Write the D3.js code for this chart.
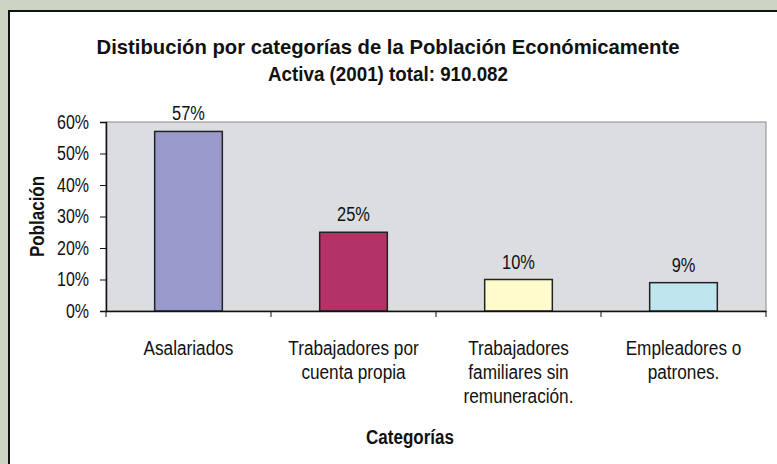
<!DOCTYPE html>
<meta charset="utf-8">
<html>
<head>
    <meta charset="utf-8">
    <script src="https://d3js.org/d3.v7.min.js"></script>
    <style>
        body { margin: 0; background: #ccd4c2; }
        svg { display: block; font-family: "Liberation Sans", Arial, sans-serif; }
    </style>
</head>
<body>
    <svg width="777" height="464"></svg>

    <script>
        // data
        var categories = ["Asalariados", "Trabajadores por cuenta propia", "Trabajadores familiares sin remuneración.", "Empleadores o patrones."];
        var catLines = [["Asalariados"], ["Trabajadores por", "cuenta propia"], ["Trabajadores", "familiares sin", "remuneración."], ["Empleadores o", "patrones."]];
        var values = [0.57, 0.25, 0.10, 0.09];
        var labels = ["57%", "25%", "10%", "9%"];
        var colors = ["#9999cc", "#b33366", "#fffbcc", "#bfe6ee"];
        var yTicks = [0, 0.1, 0.2, 0.3, 0.4, 0.5, 0.6];

        var svg = d3.select("svg");

        // the original uses a narrow font, squeeze the text a bit
        function condense(sel, f) {
            sel.each(function () {
                var w = this.getComputedTextLength();
                d3.select(this).attr("textLength", w * f).attr("lengthAdjust", "spacingAndGlyphs");
            });
        }

        // white panel
        svg.append("rect")
            .attr("x", 9).attr("y", 11)
            .attr("width", 800).attr("height", 500)
            .attr("fill", "#fff")
            .attr("stroke", "#111")
            .attr("stroke-width", 2);

        // plot area
        var pLeft = 106, pTop = 122, pRight = 766, pBottom = 311;

        var x = d3.scaleBand().domain(categories).range([pLeft, pRight]).paddingInner(0.59).paddingOuter(0.295);
        var xOuter = d3.scaleBand().domain(categories).range([pLeft, pRight]);
        var y = d3.scaleLinear().domain([0, 0.6]).range([pBottom, pTop]);

        svg.append("rect")
            .attr("x", pLeft).attr("y", pTop)
            .attr("width", pRight - pLeft).attr("height", pBottom - pTop)
            .attr("fill", "#dcdde1")
            .attr("stroke", "#8a8a8a");

        // title
        var title = svg.append("text")
            .attr("text-anchor", "middle")
            .attr("font-weight", "bold")
            .attr("font-size", 21)
            .attr("fill", "#111");
        title.append("tspan").attr("x", 388).attr("y", 54)
            .attr("textLength", 583).attr("lengthAdjust", "spacingAndGlyphs")
            .text("Distibución por categorías de la Población Económicamente");
        title.append("tspan").attr("x", 388).attr("y", 81)
            .attr("textLength", 240).attr("lengthAdjust", "spacingAndGlyphs")
            .text("Activa (2001) total: 910.082");

        // bars
        svg.selectAll(".bar")
            .data(values)
            .enter().append("rect")
            .attr("class", "bar")
            .attr("x", function (d, i) { return x(categories[i]); })
            .attr("y", function (d) { return y(d); })
            .attr("width", x.bandwidth())
            .attr("height", function (d) { return pBottom - y(d); })
            .attr("fill", function (d, i) { return colors[i]; })
            .attr("stroke", "#222")
            .attr("stroke-width", 1.5);

        // value labels
        svg.selectAll(".val")
            .data(values)
            .enter().append("text")
            .attr("class", "val")
            .attr("x", function (d, i) { return x(categories[i]) + x.bandwidth() / 2; })
            .attr("y", function (d) { return y(d) - 11; })
            .attr("text-anchor", "middle")
            .attr("font-size", 20)
            .attr("fill", "#111")
            .text(function (d, i) { return labels[i]; })
            .call(condense, 0.82);

        // Y axis
        var yAxis = svg.append("g")
            .attr("transform", "translate(" + pLeft + ",0)")
            .call(d3.axisLeft(y).tickValues(yTicks).tickFormat(d3.format(".0%")).tickSize(6).tickPadding(11));
        yAxis.selectAll("text").attr("font-size", 20).attr("font-family", null).attr("fill", "#111")
            .call(condense, 0.8);
        yAxis.selectAll("line").attr("stroke", "#111");
        yAxis.select(".domain").attr("stroke", "#111").attr("stroke-width", 1.5);

        // X axis
        var xAxis = svg.append("g")
            .attr("transform", "translate(0," + pBottom + ")")
            .call(d3.axisBottom(xOuter).tickSize(0).tickFormat(""));
        xAxis.select(".domain").attr("stroke", "#111").attr("stroke-width", 1.5);
        xAxis.selectAll(".sep")
            .data(d3.range(categories.length + 1))
            .enter().append("line")
            .attr("class", "sep")
            .attr("x1", function (d) { return pLeft + d * xOuter.step(); })
            .attr("x2", function (d) { return pLeft + d * xOuter.step(); })
            .attr("y1", 0).attr("y2", 6)
            .attr("stroke", "#111");

        // category labels
        svg.selectAll(".cat")
            .data(catLines)
            .enter().append("text")
            .attr("class", "cat")
            .attr("text-anchor", "middle")
            .attr("font-size", 20)
            .attr("fill", "#111")
            .each(function (lines, i) {
                var t = d3.select(this);
                lines.forEach(function (l, j) {
                    t.append("tspan")
                        .attr("x", xOuter(categories[i]) + xOuter.bandwidth() / 2)
                        .attr("y", 355 + j * 24)
                        .text(l);
                });
            });
        condense(svg.selectAll(".cat tspan"), 0.86);

        // axis titles
        svg.append("text")
            .attr("x", 410).attr("y", 444)
            .attr("text-anchor", "middle")
            .attr("font-weight", "bold")
            .attr("font-size", 20)
            .attr("fill", "#111")
            .text("Categorías")
            .call(condense, 0.85);

        svg.append("text")
            .attr("transform", "translate(44," + ((pTop + pBottom) / 2) + ") rotate(-90)")
            .attr("text-anchor", "middle")
            .attr("font-weight", "bold")
            .attr("font-size", 20)
            .attr("fill", "#111")
            .text("Población")
            .call(condense, 0.85);
    </script>
</body>
</html>
